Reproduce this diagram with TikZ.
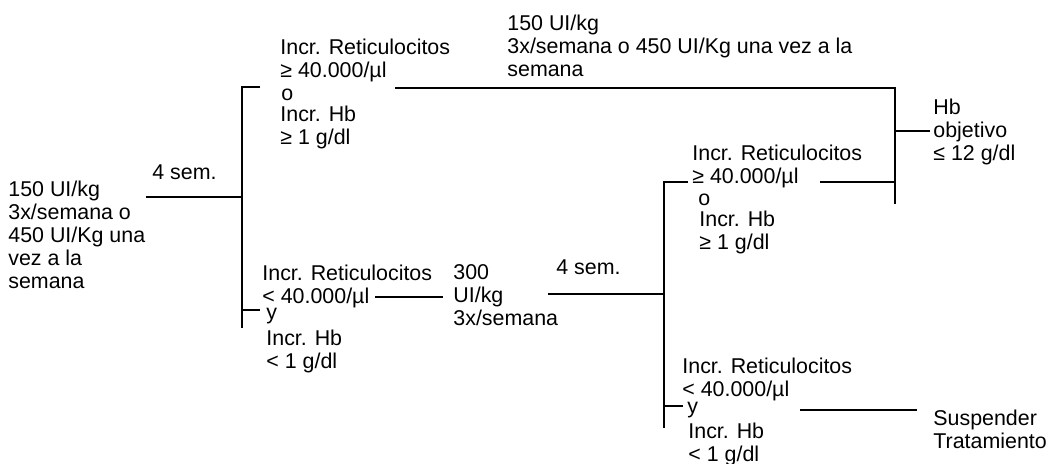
\documentclass[tikz,border=0pt]{standalone}
\usepackage{fontspec}
\setmainfont{Liberation Sans}
\tikzset{
  txt/.style={anchor=base west, inner sep=0pt, align=left,
    font=\fontsize{10.7}{11.5}\selectfont},
  rama/.style={line width=1pt},
}
\begin{document}
\begin{tikzpicture}[x=0.5pt,y=-0.5pt]
  \useasboundingbox (0,0) rectangle (1050,464);

  % textos (base = ultima linea)
  \node[txt] (inicio)    at (8,289)   {150 UI/kg\\3x/semana o\\450 UI/Kg una\\vez a la\\semana};
  \node[txt] (sem1)      at (152,180) {4 sem.};
  \node[txt] (respA)     at (280,78)  {Incr. Reticulocitos\\≥ 40.000/µl};
  \node[txt] (oA)        at (281,101) {o};
  \node[txt] (hbA)       at (280,145) {Incr. Hb\\≥ 1 g/dl};
  \node[txt] (pauta)     at (507,77)  {150 UI/kg\\3x/semana o 450 UI/Kg una vez a la\\semana};
  \node[txt] (objetivo)  at (933,161) {Hb\\objetivo\\≤ 12 g/dl};
  \node[txt] (respB)     at (262,304) {Incr. Reticulocitos\\< 40.000/µl};
  \node[txt] (yB)        at (266,320) {y};
  \node[txt] (hbB)       at (266,369) {Incr. Hb\\< 1 g/dl};
  \node[txt] (dosis)     at (453,326) {300\\UI/kg\\3x/semana};
  \node[txt] (sem2)      at (556,275) {4 sem.};
  \node[txt] (respC)     at (692,184) {Incr. Reticulocitos\\≥ 40.000/µl};
  \node[txt] (oC)        at (698,206) {o};
  \node[txt] (hbC)       at (699,250) {Incr. Hb\\≥ 1 g/dl};
  \node[txt] (respD)     at (682,397) {Incr. Reticulocitos\\< 40.000/µl};
  \node[txt] (yD)        at (687,414) {y};
  \node[txt] (hbD)       at (688,462) {Incr. Hb\\< 1 g/dl};
  \node[txt] (suspender) at (933,449) {Suspender\\Tratamiento};

  % puntos de las llaves
  \coordinate (s1)   at (146,197);
  \coordinate (b1)   at (242,197);
  \coordinate (b1t)  at (260,87);
  \coordinate (b1b)  at (242,328);
  \coordinate (b1y)  at (242,310);
  \coordinate (b1yt) at (260,310);
  \coordinate (l1)   at (395,88);
  \coordinate (h1)   at (895,204);
  \coordinate (l2)   at (820,182);
  \coordinate (h2)   at (895,182);
  \coordinate (h3)   at (895,131);
  \coordinate (h3t)  at (930,131);
  \coordinate (d1)   at (375,297);
  \coordinate (d2)   at (443,297);
  \coordinate (s2)   at (548,294);
  \coordinate (b2)   at (664,294);
  \coordinate (b2t)  at (688,182);
  \coordinate (b2b)  at (664,428);
  \coordinate (b2y)  at (664,406);
  \coordinate (b2yt) at (683,406);
  \coordinate (f1)   at (800,410);
  \coordinate (f2)   at (917,410);

  % lineas
  \draw[rama] (s1) -- (b1);
  \draw[rama] (b1t) -| (b1b);
  \draw[rama] (b1y) -- (b1yt);
  \draw[rama] (l1) -| (h1);
  \draw[rama] (l2) -- (h2);
  \draw[rama] (h3) -- (h3t);
  \draw[rama] (d1) -- (d2);
  \draw[rama] (s2) -- (b2);
  \draw[rama] (b2t) -| (b2b);
  \draw[rama] (b2y) -- (b2yt);
  \draw[rama] (f1) -- (f2);
\end{tikzpicture}
\end{document}
